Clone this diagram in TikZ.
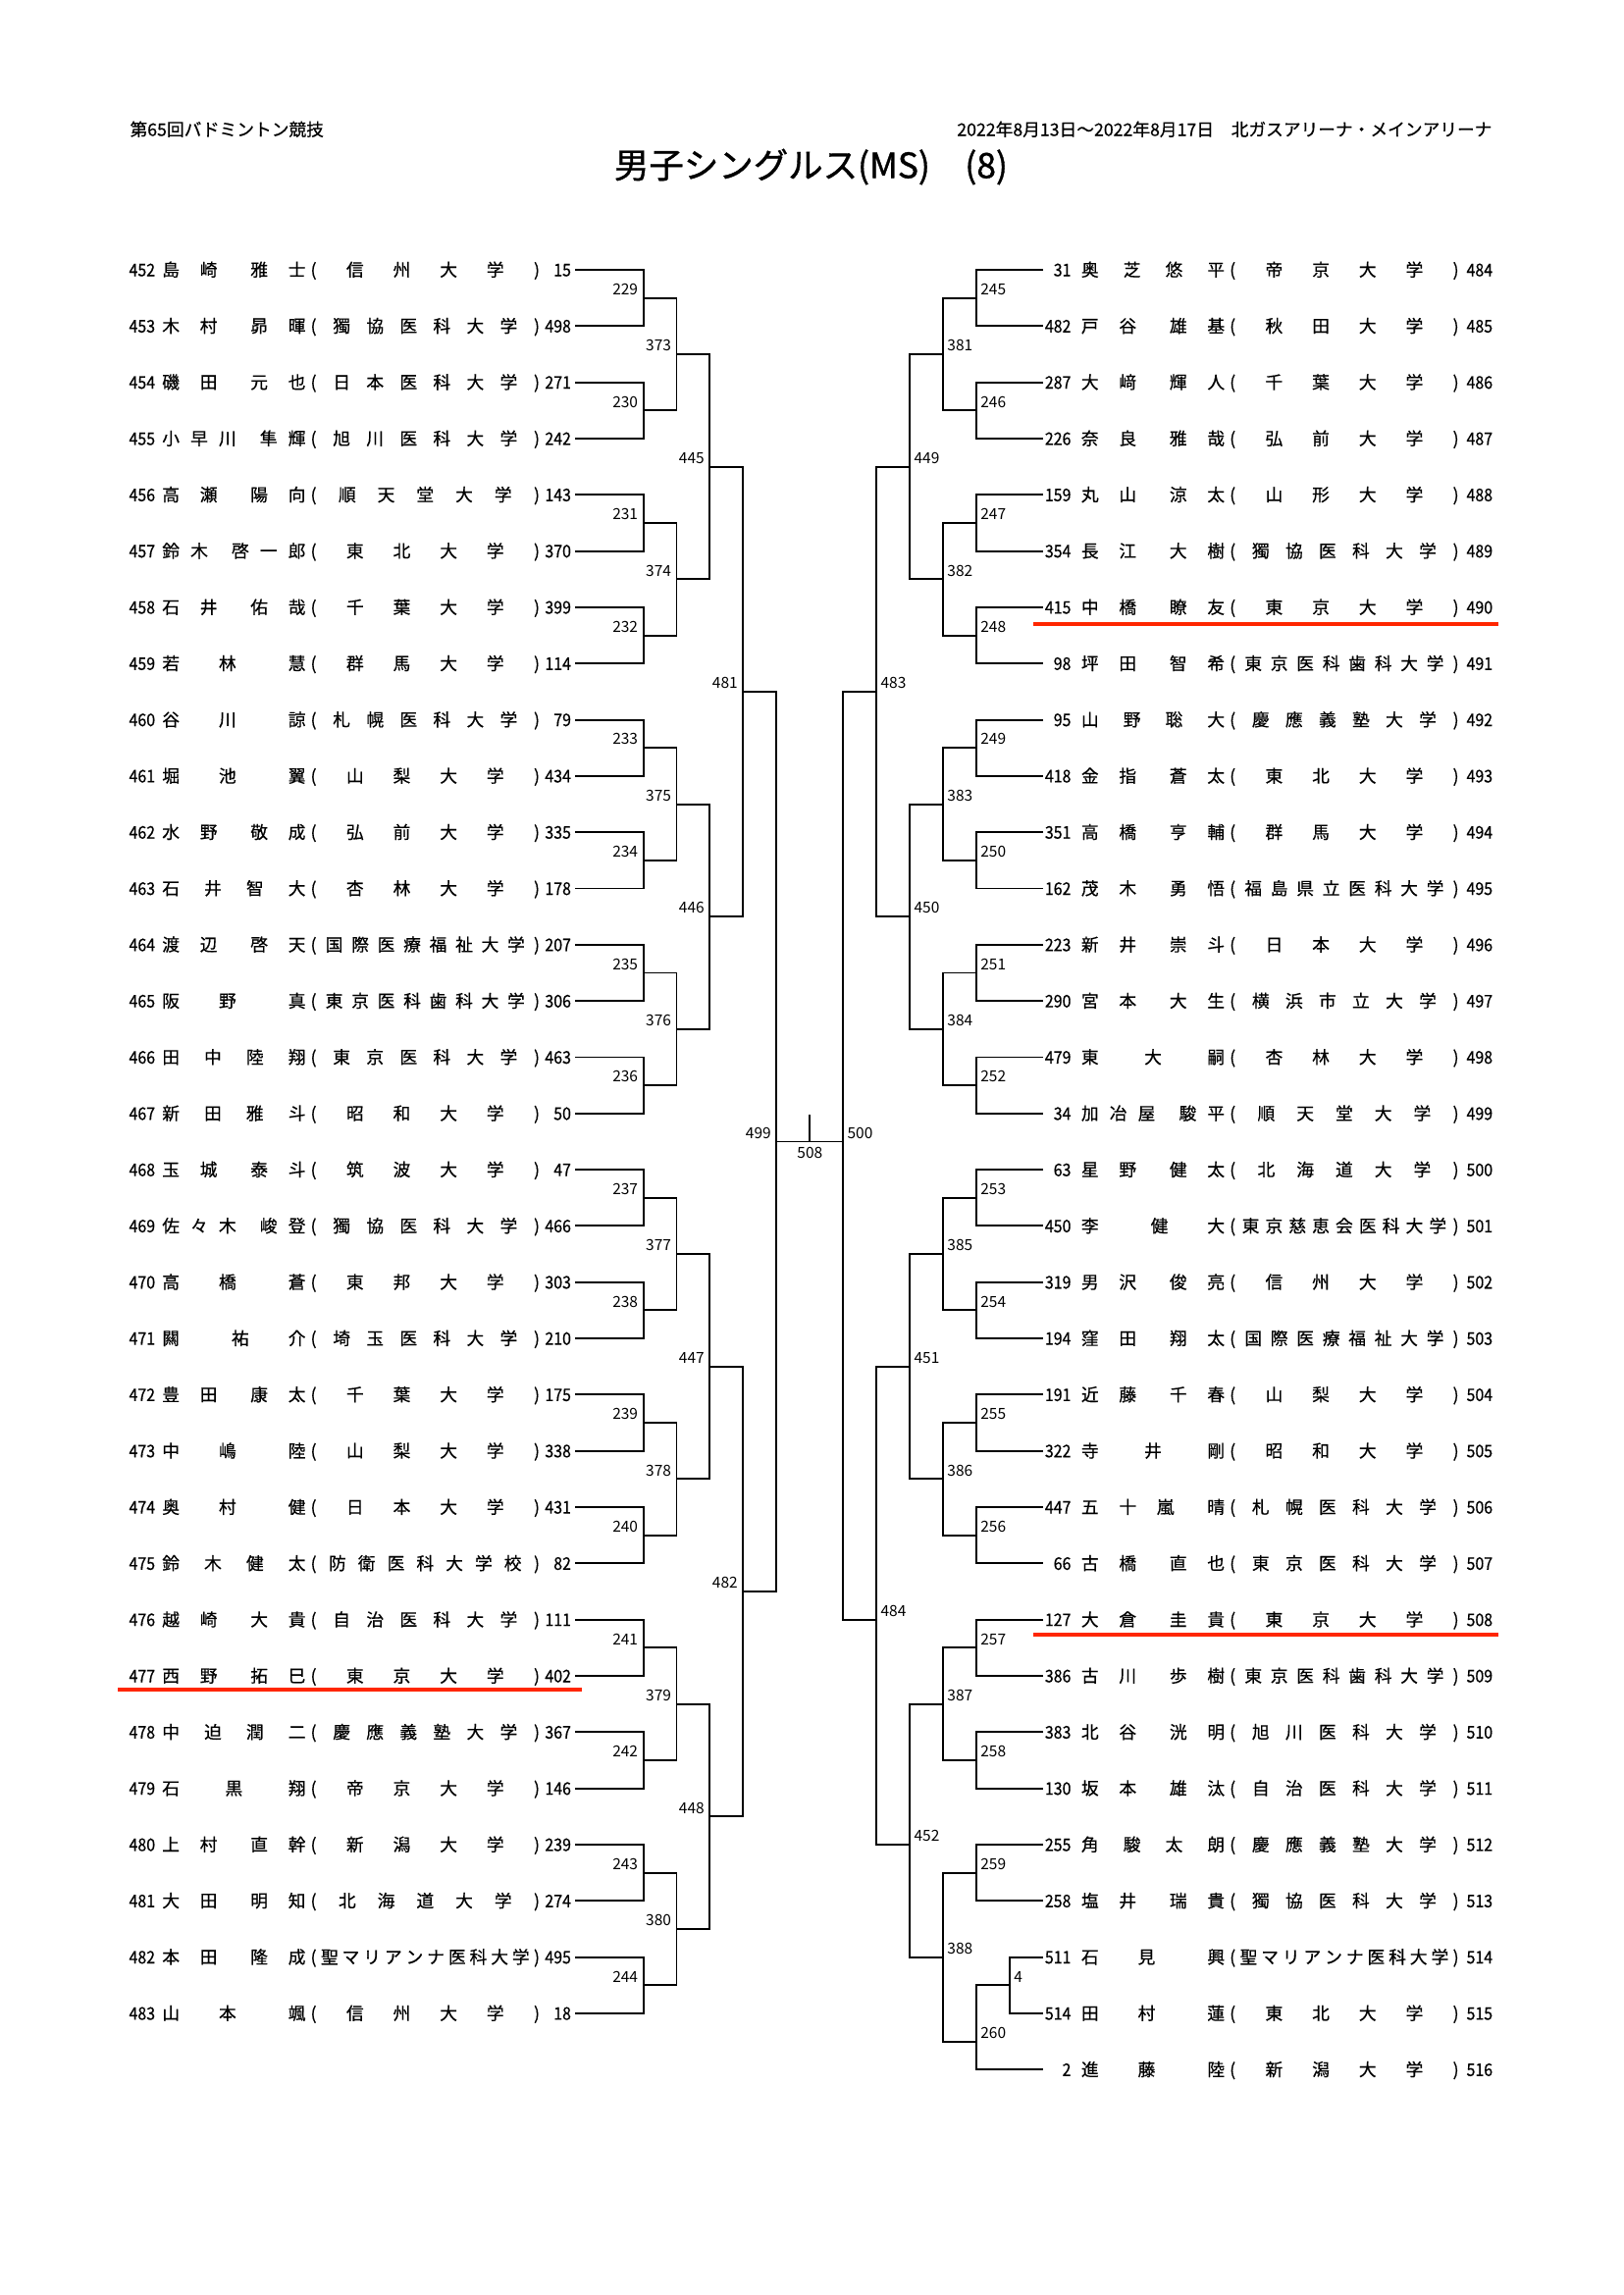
\documentclass[tikz,border=0pt]{standalone}
\usepackage{fontspec}
\setmainfont{Noto Sans CJK JP}
\newfontfamily\rowfont{Noto Sans CJK JP}[FakeBold=0.5]
\newfontfamily\digitfont{Noto Sans CJK JP}[FakeBold=0.5,FakeStretch=0.9]
\newfontfamily\titlefont{Noto Sans CJK JP}[FakeBold=1]
\definecolor{hilite}{RGB}{255,38,0}
\ExplSyntaxOn
\tl_new:N \l_bk_text_tl
\NewDocumentCommand \namebox { m }
  {
    \tl_set:No \l_bk_text_tl {#1}
    \hbox_to_wd:nn { 52.8pt }
      {
        \hskip 0pt plus -1fill \relax
        \tl_map_inline:Nn \l_bk_text_tl
          { \str_if_eq:nnTF {##1} {|} { \kern 4.7pt \relax } { \hfill ##1 } }
      }
  }
\NewDocumentCommand \unibox { m }
  {
    \tl_set:No \l_bk_text_tl {#1}
    \hbox_to_wd:nn { 82.2pt }
      {
        \hbox_to_wd:nn { 0pt } { \hss ( \hss }
        \hss
        \hbox_to_wd:nn { 79.7pt }
          { \tl_map_inline:Nn \l_bk_text_tl { \hfill ##1 } \hfill }
        \hss
        \hbox_to_wd:nn { 0pt } { \hss ) \hss }
      }
  }
\ExplSyntaxOff
\begin{document}
\begin{tikzpicture}[x=0.36125pt,y=-0.36125pt,
  every node/.style={inner sep=0pt},
  row/.style={font=\rowfont\fontsize{6.4pt}{7pt}\selectfont,yshift=-2.35pt},
  num/.style={row,font=\digitfont\fontsize{6.4pt}{7pt}\selectfont},
  lbl/.style={font=\fontsize{5.6pt}{6pt}\selectfont},
  lbll/.style={lbl,anchor=south east,xshift=-1.8pt,yshift=0.9pt},
  lblr/.style={lbl,anchor=south west,xshift=1.35pt,yshift=0.9pt},
  bk/.style={line width=0.7pt},
  hiline/.style={line width=1.45pt,hilite}]
\fill[white] (0,0) rectangle (1654,2339);
\useasboundingbox (0,0) rectangle (1654,2339);
\node[row,anchor=base west] (meet) at (132,132) {第65回バドミントン競技};
\node[row,anchor=base east] (venue) at (1521,132) {2022年8月13日～2022年8月17日　北ガスアリーナ・メインアリーナ};
\node[font=\titlefont\fontsize{12.8pt}{15pt}\selectfont] (title) at (826.5,170) {男子シングルス(MS)　(8)};
\foreach \eno/\nam/\uni/\sd [count=\rw from 0] in {
452/島崎|雅士/信州大学/15,
453/木村|昴暉/獨協医科大学/498,
454/磯田|元也/日本医科大学/271,
455/小早川|隼輝/旭川医科大学/242,
456/高瀬|陽向/順天堂大学/143,
457/鈴木|啓一郎/東北大学/370,
458/石井|佑哉/千葉大学/399,
459/若林|慧/群馬大学/114,
460/谷川|諒/札幌医科大学/79,
461/堀池|翼/山梨大学/434,
462/水野|敬成/弘前大学/335,
463/石井智大/杏林大学/178,
464/渡辺|啓天/国際医療福祉大学/207,
465/阪野|真/東京医科歯科大学/306,
466/田中陸翔/東京医科大学/463,
467/新田雅斗/昭和大学/50,
468/玉城|泰斗/筑波大学/47,
469/佐々木|峻登/獨協医科大学/466,
470/高橋|蒼/東邦大学/303,
471/闗|祐介/埼玉医科大学/210,
472/豊田|康太/千葉大学/175,
473/中嶋|陸/山梨大学/338,
474/奥村|健/日本大学/431,
475/鈴木健太/防衛医科大学校/82,
476/越崎|大貴/自治医科大学/111,
477/西野|拓巳/東京大学/402,
478/中迫潤二/慶應義塾大学/367,
479/石黒翔/帝京大学/146,
480/上村|直幹/新潟大学/239,
481/大田|明知/北海道大学/274,
482/本田|隆成/聖マリアンナ医科大学/495,
483/山本|颯/信州大学/18}{
  \pgfmathsetmacro\y{275+57.32*\rw}
  \node[num,anchor=base west] (Ln\rw) at (131,\y) {\eno};
  \node[row,anchor=base] (Lnm\rw) at (238.4,\y) {\namebox{\nam}};
  \node[row,anchor=base] (Lu\rw) at (433.3,\y) {\unibox{\uni}};
  \node[num,anchor=base east] (Ls\rw) at (582.5,\y) {\sd};
  \coordinate (Le\rw) at (586,\y);
}
\foreach \sd/\nam/\uni/\eno [count=\rw from 0] in {
31/奥芝悠平/帝京大学/484,
482/戸谷|雄基/秋田大学/485,
287/大﨑|輝人/千葉大学/486,
226/奈良|雅哉/弘前大学/487,
159/丸山|涼太/山形大学/488,
354/長江|大樹/獨協医科大学/489,
415/中橋|瞭友/東京大学/490,
98/坪田|智希/東京医科歯科大学/491,
95/山野聡大/慶應義塾大学/492,
418/金指|蒼太/東北大学/493,
351/高橋|亨輔/群馬大学/494,
162/茂木|勇悟/福島県立医科大学/495,
223/新井|崇斗/日本大学/496,
290/宮本|大生/横浜市立大学/497,
479/東大嗣/杏林大学/498,
34/加冶屋|駿平/順天堂大学/499,
63/星野|健太/北海道大学/500,
450/李|健大/東京慈恵会医科大学/501,
319/男沢|俊亮/信州大学/502,
194/窪田|翔太/国際医療福祉大学/503,
191/近藤|千春/山梨大学/504,
322/寺井剛/昭和大学/505,
447/五十嵐|晴/札幌医科大学/506,
66/古橋|直也/東京医科大学/507,
127/大倉|圭貴/東京大学/508,
386/古川|歩樹/東京医科歯科大学/509,
383/北谷|洸明/旭川医科大学/510,
130/坂本|雄汰/自治医科大学/511,
255/角駿太朗/慶應義塾大学/512,
258/塩井|瑞貴/獨協医科大学/513,
511/石見|興/聖マリアンナ医科大学/514,
514/田村|蓮/東北大学/515,
2/進藤|陸/新潟大学/516}{
  \pgfmathsetmacro\y{275+57.32*\rw}
  \node[num,anchor=base east] (Rs\rw) at (1092,\y) {\sd};
  \node[row,anchor=base] (Rnm\rw) at (1175,\y) {\namebox{\nam}};
  \node[row,anchor=base] (Ru\rw) at (1369.9,\y) {\unibox{\uni}};
  \node[num,anchor=base west] (Rn\rw) at (1494,\y) {\eno};
  \coordinate (Re\rw) at (1063,\y);
}
\foreach \m in {0,...,15}{
  \pgfmathtruncatemacro\ia{2*\m}
  \pgfmathtruncatemacro\ib{2*\m+1}
  \pgfmathtruncatemacro\tn{229+\m}
  \coordinate (La\m) at (655.6,{275+57.32*(2*\m+0.5)});
  \draw[bk] (Le\ia) -| (La\m) |- (Le\ib);
  \node[lbll] (tLa\m) at (La\m) {\tn};
}
\foreach \m in {0,...,14}{
  \pgfmathtruncatemacro\ia{2*\m}
  \pgfmathtruncatemacro\ib{2*\m+1}
  \pgfmathtruncatemacro\tn{245+\m}
  \coordinate (Ra\m) at (995,{275+57.32*(2*\m+0.5)});
  \draw[bk] (Re\ia) -| (Ra\m) |- (Re\ib);
  \node[lblr] (tRa\m) at (Ra\m) {\tn};
}
\coordinate (Rp) at (1029,{275+57.32*30.5});
\draw[bk] (Re30) -| (Rp) |- (Re31);
\node[lblr] (tRp) at (Rp) {4};
\coordinate (Ra15) at (995,{275+57.32*31.5});
\draw[bk] (Rp) -| (Ra15) |- (Re32);
\node[lblr] (tRa15) at (Ra15) {260};
\foreach \m in {0,...,7}{
  \pgfmathtruncatemacro\ia{2*\m}
  \pgfmathtruncatemacro\ib{2*\m+1}
  \pgfmathtruncatemacro\tn{373+\m}
  \coordinate (Lb\m) at (689.5,{275+57.32*(4*\m+1.5)});
  \draw[bk] (La\ia) -| (Lb\m) |- (La\ib);
  \node[lbll] (tLb\m) at (Lb\m) {\tn};
}
\foreach \m/\yr in {0/1.5,1/5.5,2/9.5,3/13.5,4/17.5,5/21.5,6/25.5,7/30}{
  \pgfmathtruncatemacro\ia{2*\m}
  \pgfmathtruncatemacro\ib{2*\m+1}
  \pgfmathtruncatemacro\tn{381+\m}
  \coordinate (Rb\m) at (961.1,{275+57.32*\yr});
  \draw[bk] (Ra\ia) -| (Rb\m) |- (Ra\ib);
  \node[lblr] (tRb\m) at (Rb\m) {\tn};
}
\foreach \m in {0,...,3}{
  \pgfmathtruncatemacro\ia{2*\m}
  \pgfmathtruncatemacro\ib{2*\m+1}
  \pgfmathtruncatemacro\tn{445+\m}
  \coordinate (Lc\m) at (723.3,{275+57.32*(8*\m+3.5)});
  \draw[bk] (Lb\ia) -| (Lc\m) |- (Lb\ib);
  \node[lbll] (tLc\m) at (Lc\m) {\tn};
}
\foreach \m/\yr in {0/3.5,1/11.5,2/19.5,3/28}{
  \pgfmathtruncatemacro\ia{2*\m}
  \pgfmathtruncatemacro\ib{2*\m+1}
  \pgfmathtruncatemacro\tn{449+\m}
  \coordinate (Rc\m) at (927.3,{275+57.32*\yr});
  \draw[bk] (Rb\ia) -| (Rc\m) |- (Rb\ib);
  \node[lblr] (tRc\m) at (Rc\m) {\tn};
}
\foreach \m in {0,1}{
  \pgfmathtruncatemacro\ia{2*\m}
  \pgfmathtruncatemacro\ib{2*\m+1}
  \pgfmathtruncatemacro\tn{481+\m}
  \coordinate (Ld\m) at (757.3,{275+57.32*(16*\m+7.5)});
  \draw[bk] (Lc\ia) -| (Ld\m) |- (Lc\ib);
  \node[lbll] (tLd\m) at (Ld\m) {\tn};
}
\foreach \m/\yr in {0/7.5,1/24}{
  \pgfmathtruncatemacro\ia{2*\m}
  \pgfmathtruncatemacro\ib{2*\m+1}
  \pgfmathtruncatemacro\tn{483+\m}
  \coordinate (Rd\m) at (893.3,{275+57.32*\yr});
  \draw[bk] (Rc\ia) -| (Rd\m) |- (Rc\ib);
  \node[lblr] (tRd\m) at (Rd\m) {\tn};
}
\coordinate (Lf) at (791.3,1163.5);
\coordinate (Rf) at (859.3,1163.5);
\draw[bk] (Ld0) -| (Lf) |- (Ld1);
\draw[bk] (Rd0) -| (Rf) |- (Rd1);
\node[lbll] (tLf) at (Lf) {499};
\node[lblr] (tRf) at (Rf) {500};
\draw[bk] (Lf) -- coordinate (cup) (Rf);
\draw[bk] (cup) -- ++(0,-27.5);
\node[lbl,anchor=north,yshift=-1.8pt] (tcup) at (cup) {508};
\draw[hiline] (120,1721.7) -- (593,1721.7);
\draw[hiline] (1053.4,635.7) -- (1527,635.7);
\draw[hiline] (1053.4,1666) -- (1527,1666);
\end{tikzpicture}
\end{document}
